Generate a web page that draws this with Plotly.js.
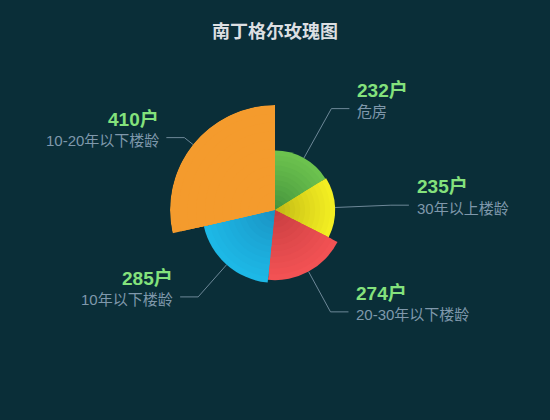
<!DOCTYPE html>
<html>
<head>
<meta charset="utf-8">
<script src="https://cdn.plot.ly/plotly-3.0.1.min.js"></script>
<style>
  html, body { margin: 0; padding: 0; background: #0a2e38; }
  #chart { width: 550px; height: 420px; }
</style>
</head>
<body>
<div id="chart"></div>
<script>
// 南丁格尔玫瑰图 - data
const categories = ['危房', '30年以上楼龄', '20-30年以下楼龄', '10年以下楼龄', '10-20年以下楼龄'];
const households = [232, 235, 274, 285, 410];
const valueLabels = ['232户', '235户', '274户', '285户', '410户'];
const outerColors = ['#6cc24e', '#f3ee22', '#f25254', '#1db8e6', '#f49b2d'];
const innerColors = ['#3d8c3a', '#b9ae12', '#c13a3d', '#1a8dbd', '#f49b2d'];

// Geometry of the pie in the 550x420 window
const W = 550, H = 420;
const CX = 275, CY = 210, R = 105;     // centre and outer radius, px
const LINE1 = 11, LINE2 = 18;          // label line lengths, px
const LAYERS = 12;                     // shading rings per slice

function mix(c1, c2, t) {
    const a = parseInt(c1.slice(1), 16), b = parseInt(c2.slice(1), 16);
    const ch = function(s) {
        const x = (a >> s) & 255, y = (b >> s) & 255;
        return Math.round(x + (y - x) * t);
    };
    return 'rgb(' + ch(16) + ',' + ch(8) + ',' + ch(0) + ')';
}

// angle from 12 o'clock (clockwise, degrees) + radius in px -> paper coords
function toPaper(angle, rPx) {
    const a = angle * Math.PI / 180;
    return {
        x: (CX + rPx * Math.sin(a)) / W,
        y: (H - CY + rPx * Math.cos(a)) / H
    };
}

const total = households.reduce(function(s, v) { return s + v; }, 0);
const maxVal = Math.max.apply(null, households);
const widths = households.map(function(v) { return v / total * 360; });
const mids = [];
let acc = 0;
widths.forEach(function(w) { mids.push(acc + w / 2); acc += w; });

// rose slices: radius ~ value, angle ~ value; overlaid rings fake the radial shading
const traces = [];
for (let k = LAYERS; k >= 1; k--) {
    const f = k / LAYERS;
    traces.push({
        type: 'barpolar',
        r: households.map(function(v) { return v * f; }),
        theta: mids,
        width: widths,
        text: categories,
        marker: {
            color: households.map(function(v, i) { return mix(innerColors[i], outerColors[i], Math.pow(f, 0.8)); }),
            line: { width: 0 }
        },
        hoverinfo: 'text',
        showlegend: false
    });
}

const lineColor = '#6d8898';
const fontFamily = 'Liberation Sans, Arial, Noto Sans CJK SC';
const shapes = [];
const annotations = [];
households.forEach(function(v, i) {
    const ang = mids[i];
    const rSlice = v / maxVal * R;
    const p0 = toPaper(ang, rSlice);
    const p1 = toPaper(ang, R + LINE1);
    const right = Math.sin(ang * Math.PI / 180) >= 0;
    const p2 = { x: p1.x + (right ? LINE2 : -LINE2) / W, y: p1.y };
    shapes.push({
        type: 'path',
        xref: 'paper', yref: 'paper',
        path: 'M' + p0.x + ',' + p0.y + ' L' + p1.x + ',' + p1.y + ' L' + p2.x + ',' + p2.y,
        line: { color: lineColor, width: 1 }
    });
    const common = {
        xref: 'paper', yref: 'paper',
        x: p2.x, y: p2.y,
        xanchor: right ? 'left' : 'right',
        yanchor: 'middle',
        xshift: right ? 6 : -5,
        showarrow: false
    };
    annotations.push(Object.assign({}, common, {
        text: '<b>' + valueLabels[i] + '</b>',
        yshift: 19,
        font: { size: 19, color: '#84e27c', family: fontFamily }
    }));
    annotations.push(Object.assign({}, common, {
        text: categories[i],
        yshift: -3,
        font: { size: 15, color: '#7f98ab', family: fontFamily }
    }));
});

const layout = {
    width: W,
    height: H,
    margin: { t: 0, r: 0, b: 0, l: 0 },
    paper_bgcolor: '#0a2e38',
    plot_bgcolor: '#0a2e38',
    title: {
        text: '<b>南丁格尔玫瑰图</b>',
        x: 0.5, xanchor: 'center',
        y: 1 - 32 / H, yanchor: 'middle',
        font: { size: 18, color: '#dcdfe2', family: fontFamily }
    },
    polar: {
        domain: {
            x: [(CX - R) / W, (CX + R) / W],
            y: [(H - CY - R) / H, (H - CY + R) / H]
        },
        bgcolor: 'rgba(0,0,0,0)',
        barmode: 'overlay',
        bargap: 0,
        radialaxis: { visible: false, range: [0, maxVal], showgrid: false },
        angularaxis: {
            visible: false, showgrid: false,
            rotation: 90, direction: 'clockwise'
        }
    },
    shapes: shapes,
    annotations: annotations,
    showlegend: false
};

Plotly.newPlot('chart', traces, layout, { displayModeBar: false, staticPlot: true });
</script>
</body>
</html>
